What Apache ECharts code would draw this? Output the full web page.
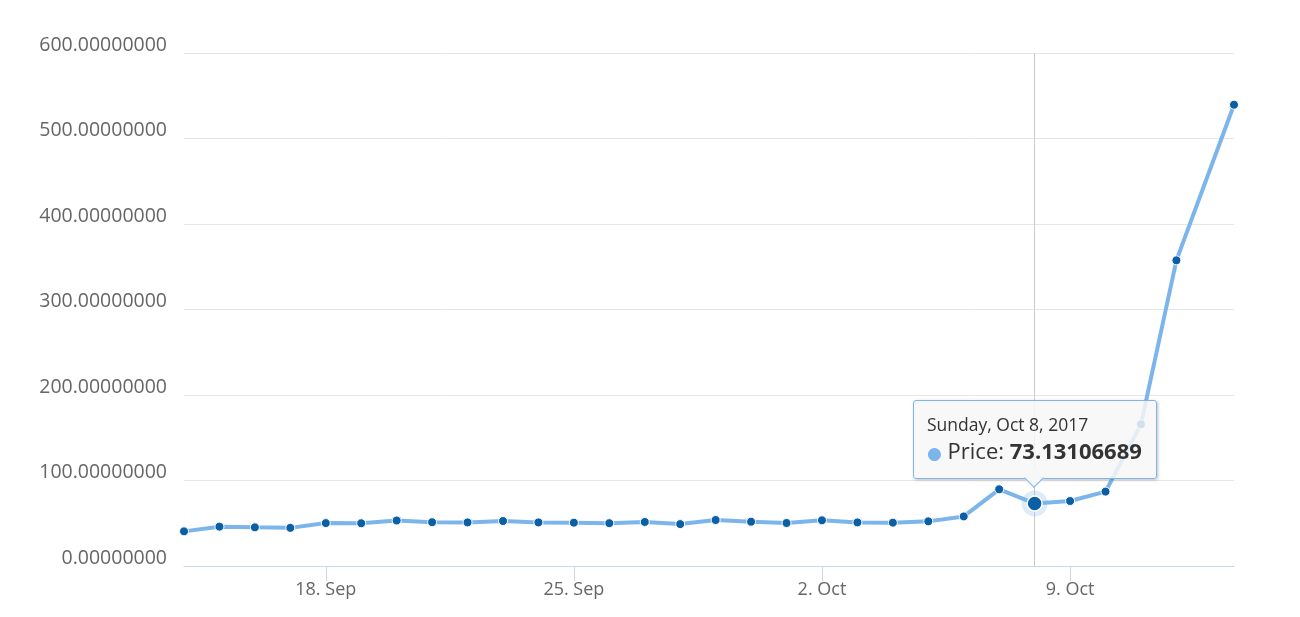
<!DOCTYPE html>
<html>
<head>
<meta charset="utf-8">
<script src="https://cdn.jsdelivr.net/npm/echarts@6/dist/echarts.min.js"></script>
<style>
html,body{margin:0;padding:0;background:#fff;}
#chart{width:1300px;height:617px;}
</style>
</head>
<body>
<div id="chart"></div>
<script>
// Daily dates (Sep 14 – Oct 12, 2017) plus a last intraday point on Oct 13
const dates = [
  '2017-09-14','2017-09-15','2017-09-16','2017-09-17','2017-09-18','2017-09-19','2017-09-20',
  '2017-09-21','2017-09-22','2017-09-23','2017-09-24','2017-09-25','2017-09-26','2017-09-27',
  '2017-09-28','2017-09-29','2017-09-30','2017-10-01','2017-10-02','2017-10-03','2017-10-04',
  '2017-10-05','2017-10-06','2017-10-07','2017-10-08','2017-10-09','2017-10-10','2017-10-11',
  '2017-10-12','2017-10-13T15:00'
];
const prices = [
  40.5, 46.0, 45.2, 44.6, 50.2, 50.0, 53.2,
  51.2, 51.0, 52.6, 51.0, 50.7, 50.1, 51.5,
  49.0, 53.8, 51.8, 50.3, 53.4, 51.0, 50.7,
  52.2, 58.0, 89.7, 73.13106689, 76.0, 87.0, 165.7,
  357.5, 539.5
];
const xTickDates = ['2017-09-18','2017-09-25','2017-10-02','2017-10-09'];
const yMin = 0, yMax = 600, yStep = 100;
const seriesName = 'Price';
const tipIndex = 24;

function toTime(s){
  const [d, t] = s.split('T');
  const [y, m, dd] = d.split('-').map(Number);
  let h = 0, mi = 0;
  if (t) { [h, mi] = t.split(':').map(Number); }
  return new Date(y, m - 1, dd, h, mi).getTime();
}
const months = ['Jan','Feb','Mar','Apr','May','Jun','Jul','Aug','Sep','Oct','Nov','Dec'];
const days = ['Sunday','Monday','Tuesday','Wednesday','Thursday','Friday','Saturday'];
const data = dates.map((d, i) => [toTime(d), prices[i]]);
const tickVals = xTickDates.map(toTime);

const chart = echarts.init(document.getElementById('chart'), null, {renderer: 'canvas'});
const font = '"Open Sans", "DejaVu Sans", sans-serif';

chart.setOption({
  animation: false,
  backgroundColor: '#ffffff',
  grid: {left: 184, right: 66, top: 53, bottom: 51, containLabel: false},
  xAxis: {
    type: 'value',
    min: data[0][0],
    max: data[data.length - 1][0],
    axisLine: {show: true, lineStyle: {color: '#ccd6eb', width: 1}},
    axisTick: {show: true, customValues: tickVals, length: 15, lineStyle: {color: '#ccd6eb'}},
    axisLabel: {
      customValues: tickVals,
      color: '#666666', fontSize: 18, fontFamily: font, margin: 15,
      formatter: v => { const d = new Date(v); return d.getDate() + '. ' + months[d.getMonth()]; }
    },
    splitLine: {show: false},
    axisPointer: {show: true, type: 'line', z: 1, lineStyle: {color: '#cccccc', width: 1, type: 'solid'}, label: {show: false}}
  },
  yAxis: {
    type: 'value',
    min: yMin, max: yMax, interval: yStep,
    axisLine: {show: false},
    axisTick: {show: false},
    axisLabel: {color: '#666666', fontSize: 19.5, fontFamily: font, margin: 17,
      verticalAlign: 'bottom', lineHeight: 16,
      formatter: v => v.toFixed(8)},
    splitLine: {lineStyle: {color: '#e6e6e6', width: 1}}
  },
  tooltip: {
    trigger: 'axis',
    alwaysShowContent: true,
    triggerOn: 'none',
    showDelay: 0,
    transitionDuration: 0,
    backgroundColor: 'rgba(247,247,247,0.85)',
    borderColor: '#7cb5ec',
    borderWidth: 1,
    borderRadius: 3,
    padding: [12, 14, 10, 13],
    extraCssText: 'box-shadow: 1px 1px 3px rgba(0,0,0,0.25);overflow:visible;',
    position: function (point, params, dom, rect, size) {
      return [point[0] - size.contentSize[0] / 2, point[1] - size.contentSize[1] - 24];
    },
    formatter: function (params) {
      const p = params[0];
      const d = new Date(p.value[0]);
      const head = days[d.getDay()] + ', ' + months[d.getMonth()] + ' ' + d.getDate() + ', ' + d.getFullYear();
      return '<div style="position:relative;font-family:' + font.replace(/"/g, "'") + ';">' +
        '<div style="font-size:17.5px;color:#333;line-height:22px;">' + head + '</div>' +
        '<div style="font-size:22px;color:#333;line-height:30px;white-space:nowrap;">' +
        '<span style="color:#7cb5ec;font-size:17px;">\u25CF</span> ' + p.seriesName + ': ' +
        '<b>' + p.value[1].toFixed(8) + '</b></div>' +
        '<div style="position:absolute;left:calc(50% - 7px);bottom:-17px;width:14px;height:14px;' +
        'background:#f7f7f7;border-right:1px solid #7cb5ec;border-bottom:1px solid #7cb5ec;' +
        'transform:rotate(45deg);box-sizing:border-box;"></div>' +
        '</div>';
    }
  },
  series: [{
    name: seriesName,
    type: 'line',
    z: 5,
    data: data,
    symbol: 'circle',
    symbolSize: 9,
    showAllSymbol: true,
    lineStyle: {color: '#7cb5ec', width: 4},
    itemStyle: {color: '#0b5fa5', borderColor: '#ffffff', borderWidth: 1},
    emphasis: {disabled: true},
    markPoint: {
      silent: true,
      z: 6,
      label: {show: false},
      data: [
        {coord: data[tipIndex], symbol: 'circle', symbolSize: 26, itemStyle: {color: 'rgba(124,181,236,0.25)'}},
        {coord: data[tipIndex], symbol: 'circle', symbolSize: 15, itemStyle: {color: '#0b5fa5', borderColor: '#ffffff', borderWidth: 1.5}}
      ]
    }
  }]
});

chart.dispatchAction({type: 'showTip', seriesIndex: 0, dataIndex: tipIndex});
</script>
</body>
</html>
